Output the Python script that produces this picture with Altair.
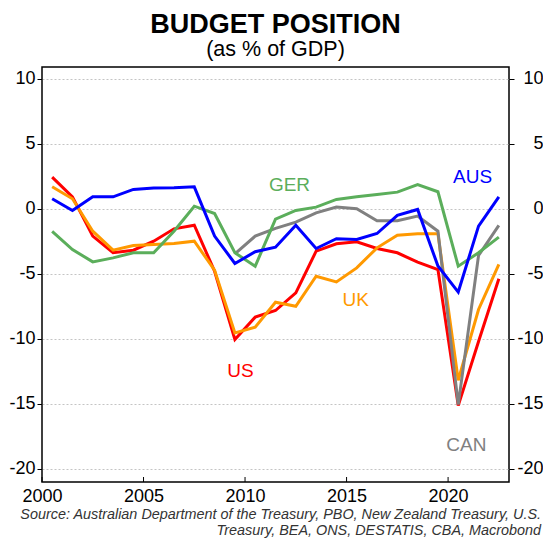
import altair as alt
import pandas as pd

# ---- data ----
years = [2000.5 + i for i in range(23)]
aus = [0.77, -0.13, 0.92, 0.92, 1.49, 1.59, 1.62, 1.69, -2.1, -4.2, -3.3, -2.95,
       -1.26, -3.05, -2.3, -2.36, -1.9, -0.5, -0.05, -4.4, -6.4, -1.33, 0.92]
ger = [-1.74, -3.13, -4.08, -3.77, -3.38, -3.38, -1.72, 0.2, -0.36, -3.38, -4.41, -0.8,
       -0.13, 0.13, 0.72, 0.92, 1.1, 1.28, 1.87, 1.31, -4.41, -3.38, -2.18]
can = [None] * 9 + [-3.46, -2.1, -1.5, -1.03, -0.31, 0.13, 0.0, -0.92, -0.92, -0.56,
                    -1.72, -15.05, -3.59, -1.28]
uk = [1.69, 0.77, -1.72, -3.18, -2.82, -2.74, -2.67, -2.49, -4.72, -9.54, -9.1, -7.18,
      -7.49, -5.18, -5.62, -4.54, -3.0, -2.03, -1.92, -1.92, -13.18, -7.74, -4.28]
us = [2.44, 0.92, -2.1, -3.38, -3.18, -2.49, -1.54, -1.26, -4.8, -10.05, -8.33, -7.82,
      -6.46, -3.26, -2.69, -2.54, -3.05, -3.38, -4.1, -4.67, -15.13, -10.2, -5.38]

series_names = ["US", "UK", "CAN", "GER", "AUS"]
series_values = [us, uk, can, ger, aus]
series_colors = ["#FF0000", "#FF9900", "#808080", "#5BAE5B", "#0000FF"]

label_x = [2009.78, 2015.45, 2020.9, 2012.19, 2021.21]
label_y = [-12.48, -7.03, -18.17, 1.84, 2.41]

x_ticks = [2000, 2005, 2010, 2015, 2020]
y_ticks = [-20, -15, -10, -5, 0, 5, 10]

source_lines = ["Source: Australian Department of the Treasury, PBO, New Zealand Treasury, U.S.",
                "Treasury, BEA, ONS, DESTATIS, CBA, Macrobond"]

FONT = "Liberation Sans"
W, H = 467, 415

xs = alt.Scale(domain=[2000, 2023], nice=False, zero=False)
ys = alt.Scale(domain=[-21, 10.9], nice=False, zero=False)

layers = []

# x axis carrier (with inward ticks drawn as rules)
xt_df = pd.DataFrame({"t": x_ticks})
x_axis_layer = alt.Chart(xt_df).mark_rule(color="black", strokeWidth=1).encode(
    x=alt.X("t:Q", scale=xs, axis=alt.Axis(values=x_ticks, format="d", ticks=False, grid=False,
                                           domain=False, labelFontSize=18, labelFont=FONT,
                                           labelColor="black", labelPadding=5, labelFlush=False,
                                           title=None)),
    y=alt.value(H - 5), y2=alt.value(H),
)
layers.append(x_axis_layer)

yt_df = pd.DataFrame({"v": y_ticks})
left_axis_layer = alt.Chart(yt_df).mark_rule(opacity=0).encode(
    y=alt.Y("v:Q", scale=ys, axis=alt.Axis(values=y_ticks, grid=True, gridDash=[2, 2],
                                           gridColor="#c4c4c4", gridWidth=1, domain=False,
                                           tickSize=5, tickColor="black", labelFontSize=18,
                                           labelFont=FONT, labelColor="black", labelPadding=2,
                                           labelExpr="'' + datum.value", labelFlush=False,
                                           title=None)),
    x=alt.value(0), x2=alt.value(1),
)
right_axis_layer = alt.Chart(yt_df).mark_rule(opacity=0).encode(
    y=alt.Y("v:Q", scale=ys, axis=alt.Axis(values=y_ticks, orient="right", grid=False,
                                           domain=False, tickSize=5, tickColor="black",
                                           labelFontSize=18, labelFont=FONT, labelColor="black",
                                           labelAlign="right", labelPadding=29,
                                           labelExpr="'' + datum.value", labelFlush=False,
                                           title=None)),
    x=alt.value(W - 1), x2=alt.value(W),
)
layers += [left_axis_layer, right_axis_layer]

for name, vals, col in zip(series_names, series_values, series_colors):
    d = pd.DataFrame({"year": years, "value": vals}).dropna()
    layers.append(
        alt.Chart(d).mark_line(color=col, strokeWidth=3).encode(
            x=alt.X("year:Q", scale=xs, axis=None),
            y=alt.Y("value:Q", scale=ys, axis=None),
        )
    )

lab_df = pd.DataFrame({"name": series_names, "x": label_x, "y": label_y, "color": series_colors})
layers.append(
    alt.Chart(lab_df).mark_text(fontSize=19, font=FONT, baseline="middle", align="center").encode(
        x=alt.X("x:Q", scale=xs, axis=None),
        y=alt.Y("y:Q", scale=ys, axis=None),
        text="name:N",
        color=alt.Color("color:N", scale=None),
    )
)

for i, line in enumerate(source_lines):
    layers.append(
        alt.Chart(pd.DataFrame({"t": [line]})).mark_text(
            align="right", baseline="alphabetic", fontStyle="italic", fontSize=14.4,
            font=FONT, color="#333333").encode(
            x=alt.value(W + 32), y=alt.value(452 + 16 * i), text="t:N")
    )

chart = alt.layer(*layers).resolve_axis(x="independent", y="independent").properties(
    width=W, height=H,
    title=alt.TitleParams(text="BUDGET POSITION", subtitle="(as % of GDP)", fontSize=27,
                          font=FONT, fontWeight="bold", color="black", subtitleFont=FONT,
                          subtitleFontSize=21.5, subtitleColor="black", anchor="middle",
                          offset=6, subtitlePadding=0),
    autosize=alt.AutoSizeParams(type="none"),
    padding={"left": 34, "top": 59, "right": 34, "bottom": 58},
).configure_view(stroke="black", strokeWidth=1.5)

chart.save("out.html", embed_options={"renderer": "svg", "actions": False})
